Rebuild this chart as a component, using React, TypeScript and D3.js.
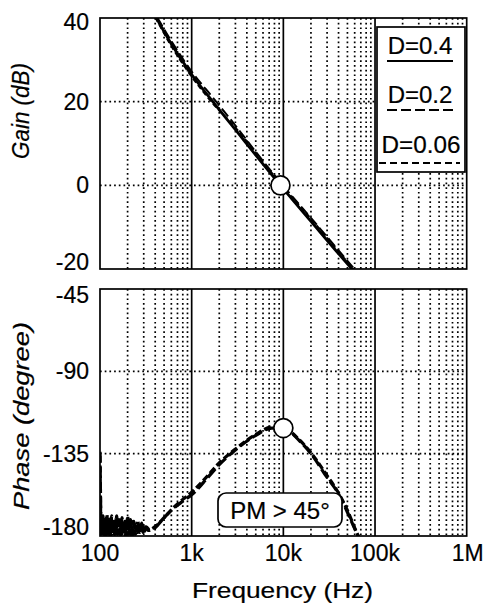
import React from "react";
import * as d3 from "d3";

const freqTicks = [100, 1e3, 1e4, 1e5, 1e6];
const freqTickLabels = ["100", "1k", "10k", "100k", "1M"];
const gainTicks = [40, 20, 0, -20];
const phaseTicks = [-45, -90, -135, -180];

const seriesNames = ["D=0.4", "D=0.2", "D=0.06"];

const gainD04: [number, number][] = [
  [300, 45.5], [400, 40.5], [600, 33.8], [1000, 26.5], [1700, 20], [3000, 13.3],
  [5000, 7.2], [9300, 0], [20000, -8.6], [56000, -20], [90000, -25],
];
const gainD02: [number, number][] = [
  [300, 46], [400, 41], [600, 34.5], [1000, 27.2], [1700, 21], [3000, 14.3],
  [5000, 8], [9300, 0.7], [20000, -7.8], [56000, -19.3], [90000, -24.5],
];
const gainD006: [number, number][] = [
  [300, 45.2], [400, 40.2], [600, 33.3], [1000, 26], [1700, 19.6], [3000, 13.8],
  [5000, 7.8], [9300, 0.4], [20000, -8], [56000, -19.6], [90000, -24.8],
];

const phaseD02: [number, number][] = [
  [100, -134], [101, -152], [102, -168], [103, -179], [104, -170], [106, -180], [108, -169],
  [110, -179], [113, -171], [116, -180], [119, -168], [122, -179], [126, -171], [130, -180],
  [134, -169], [138, -179], [142, -172], [147, -180], [152, -169], [157, -179], [162, -171],
  [168, -180], [174, -170], [180, -179], [186, -172], [193, -180], [200, -169], [207, -179],
  [215, -171], [225, -180], [235, -172], [245, -179], [258, -172], [270, -178], [285, -173],
  [300, -178], [320, -175], [350, -177], [400, -175.5], [480, -171], [600, -166], [800, -161],
  [1000, -157.5], [1500, -148], [2000, -141], [3000, -133], [5000, -125], [7500, -121],
  [10000, -121], [15000, -128], [20000, -135], [30000, -148], [40000, -157], [50000, -167],
  [60000, -176], [70000, -183],
];
const phaseD006: [number, number][] = [
  [100, -136], [101, -156], [102, -172], [103, -176], [105, -180], [107, -170], [109, -179],
  [112, -172], [115, -180], [118, -170], [121, -179], [124, -172], [128, -180], [132, -170],
  [136, -179], [140, -172], [145, -180], [150, -170], [155, -179], [160, -173], [165, -180],
  [171, -171], [177, -179], [183, -173], [190, -180], [197, -171], [204, -179], [211, -173],
  [220, -180], [230, -172], [240, -179], [252, -173], [265, -179], [280, -174], [295, -178],
  [310, -175], [335, -177], [370, -176], [420, -174], [500, -170], [620, -165], [800, -160],
  [1000, -156], [1500, -147], [2000, -140], [3000, -132.5], [5000, -124.5], [7500, -120.5],
  [10000, -121], [15000, -127.5], [20000, -134.5], [30000, -147], [40000, -156.5],
  [50000, -166], [60000, -175.5], [70000, -183],
];

const crossFreq = 9300;
const crossGain = 0;
const pmFreq = 10000;
const pmPhase = -121;

const FONT = "'Liberation Sans', Arial, Helvetica, sans-serif";

export default function App() {
  const W = 484, H = 606;
  const left = 100, right = 466.7;
  const gTop = 18, gBot = 269;
  const pTop = 289, pBot = 536;

  const x = d3.scaleLog().domain([100, 1e6]).range([left, right]);
  const yG = d3.scaleLinear().domain([-20, 40]).range([gBot, gTop]);
  const yP = d3.scaleLinear().domain([-180, -45]).range([pBot, pTop]);

  const minor: number[] = [];
  for (let dec = 100; dec < 1e6; dec *= 10) {
    for (let k = 2; k <= 9; k++) minor.push(dec * k);
  }
  const majorInner = freqTicks.slice(1, -1);

  const lineG = d3.line<[number, number]>().x(d => x(d[0])).y(d => yG(d[1])).curve(d3.curveMonotoneX);
  const lineP = d3.line<[number, number]>().x(d => x(d[0])).y(d => yP(d[1])).curve(d3.curveMonotoneX);

  const dot = { stroke: "#000", strokeWidth: 1.7, strokeDasharray: "1.7,3", fill: "none" } as const;

  const grid = (top: number, bot: number, hTicks: number[], y: (v: number) => number) => (
    <g>
      {minor.map(f => (
        <line key={"m" + f} x1={x(f)} x2={x(f)} y1={top} y2={bot} style={dot} />
      ))}
      {hTicks.map(t => (
        <line key={"h" + t} x1={left} x2={right} y1={y(t)} y2={y(t)} style={dot} />
      ))}
      {majorInner.map(f => (
        <line key={"M" + f} x1={x(f)} x2={x(f)} y1={top} y2={bot} stroke="#000" strokeWidth={1.7} />
      ))}
    </g>
  );

  const txt = { stroke: "#000", strokeWidth: 0.2 } as const;

  return (
    <div style={{ position: "absolute", left: 0, top: 0 }}>
      <svg width={W} height={H} style={{ display: "block", background: "#fff" }} fontFamily={FONT}>
        <defs>
          <clipPath id="clipG"><rect x={left} y={gTop} width={right - left} height={gBot - gTop} /></clipPath>
          <clipPath id="clipP"><rect x={left} y={pTop} width={right - left} height={pBot - pTop} /></clipPath>
        </defs>
        <rect x={0} y={0} width={W} height={H} fill="#fff" />

        {/* Gain panel */}
        {grid(gTop, gBot, [20, 0], yG)}
        <g clipPath="url(#clipG)">
          <path d={lineG(gainD006) || ""} fill="none" stroke="#000" strokeWidth={2} strokeDasharray="5,3" />
          <path d={lineG(gainD02) || ""} fill="none" stroke="#000" strokeWidth={2} strokeDasharray="10,4" />
          <path d={lineG(gainD04) || ""} fill="none" stroke="#000" strokeWidth={2.8} />
        </g>
        <circle cx={x(crossFreq)} cy={yG(crossGain)} r={9.5} fill="#fff" stroke="#000" strokeWidth={1.7} />
        <rect x={left} y={gTop} width={right - left} height={gBot - gTop} fill="none" stroke="#000" strokeWidth={1.7} />

        {/* Legend */}
        <rect x={377} y={27} width={88} height={145} fill="#fff" stroke="#000" strokeWidth={1.7} />
        <text x={420} y={54} fontSize={24} textAnchor="middle" style={txt}>{seriesNames[0]}</text>
        <line x1={387} x2={453} y1={61} y2={61} stroke="#000" strokeWidth={2.2} />
        <text x={420} y={103} fontSize={24} textAnchor="middle" style={txt}>{seriesNames[1]}</text>
        <line x1={387} x2={453} y1={110} y2={110} stroke="#000" strokeWidth={2.2} strokeDasharray="10,4" />
        <text x={421} y={153} fontSize={24} textAnchor="middle" textLength={79} lengthAdjust="spacingAndGlyphs" style={txt}>{seriesNames[2]}</text>
        <line x1={379} x2={460} y1={163} y2={163} stroke="#000" strokeWidth={2.2} strokeDasharray="7,4" />

        {/* Phase panel */}
        {grid(pTop, pBot, [-90, -135], yP)}
        <g clipPath="url(#clipP)">
          <path d={lineP(phaseD006) || ""} fill="none" stroke="#000" strokeWidth={3.2} strokeDasharray="7,3" />
          <path d={lineP(phaseD02) || ""} fill="none" stroke="#000" strokeWidth={3.2} strokeDasharray="11,4" />
        </g>
        <circle cx={x(pmFreq)} cy={yP(pmPhase)} r={9.5} fill="#fff" stroke="#000" strokeWidth={1.7} />
        <rect x={left} y={pTop} width={right - left} height={pBot - pTop} fill="none" stroke="#000" strokeWidth={1.7} />

        <rect x={218} y={493} width={124} height={34} rx={8} fill="#fff" stroke="#000" strokeWidth={1.7} />
        <text x={280} y={519} fontSize={24} textAnchor="middle" style={txt}>PM &gt; 45°</text>

        {/* Y tick labels */}
        {gainTicks.map((t, i) => (
          <text key={"gt" + t} x={89} y={yG(t) + 8 + (i === 0 ? 4 : i === gainTicks.length - 1 ? -7 : 0)}
            fontSize={23} textAnchor="end" style={txt}>{t}</text>
        ))}
        {phaseTicks.map((t, i) => (
          <text key={"pt" + t} x={89} y={yP(t) + 8 + (i === 0 ? 6 : i === phaseTicks.length - 1 ? -9 : 0)}
            fontSize={23} textAnchor="end" style={txt}>{t}</text>
        ))}

        {/* X tick labels */}
        {freqTicks.map((f, i) => (
          <text key={"xt" + f} x={x(f) + (i === freqTicks.length - 1 ? 1 : 0)} y={561} fontSize={23} textAnchor="middle" style={txt}>
            {freqTickLabels[i]}
          </text>
        ))}

        {/* Axis titles */}
        <text x={282.5} y={598} fontSize={22} textAnchor="middle" textLength={181} lengthAdjust="spacingAndGlyphs" style={txt}>
          Frequency (Hz)
        </text>
        <text transform="translate(29,111) rotate(-90)" fontSize={24} fontStyle="italic" textAnchor="middle"
          textLength={96} lengthAdjust="spacingAndGlyphs" style={txt}>Gain (dB)</text>
        <text transform="translate(29,416) rotate(-90)" fontSize={22} fontStyle="italic" textAnchor="middle"
          textLength={188} lengthAdjust="spacingAndGlyphs" style={txt}>Phase (degree)</text>
      </svg>
    </div>
  );
}
